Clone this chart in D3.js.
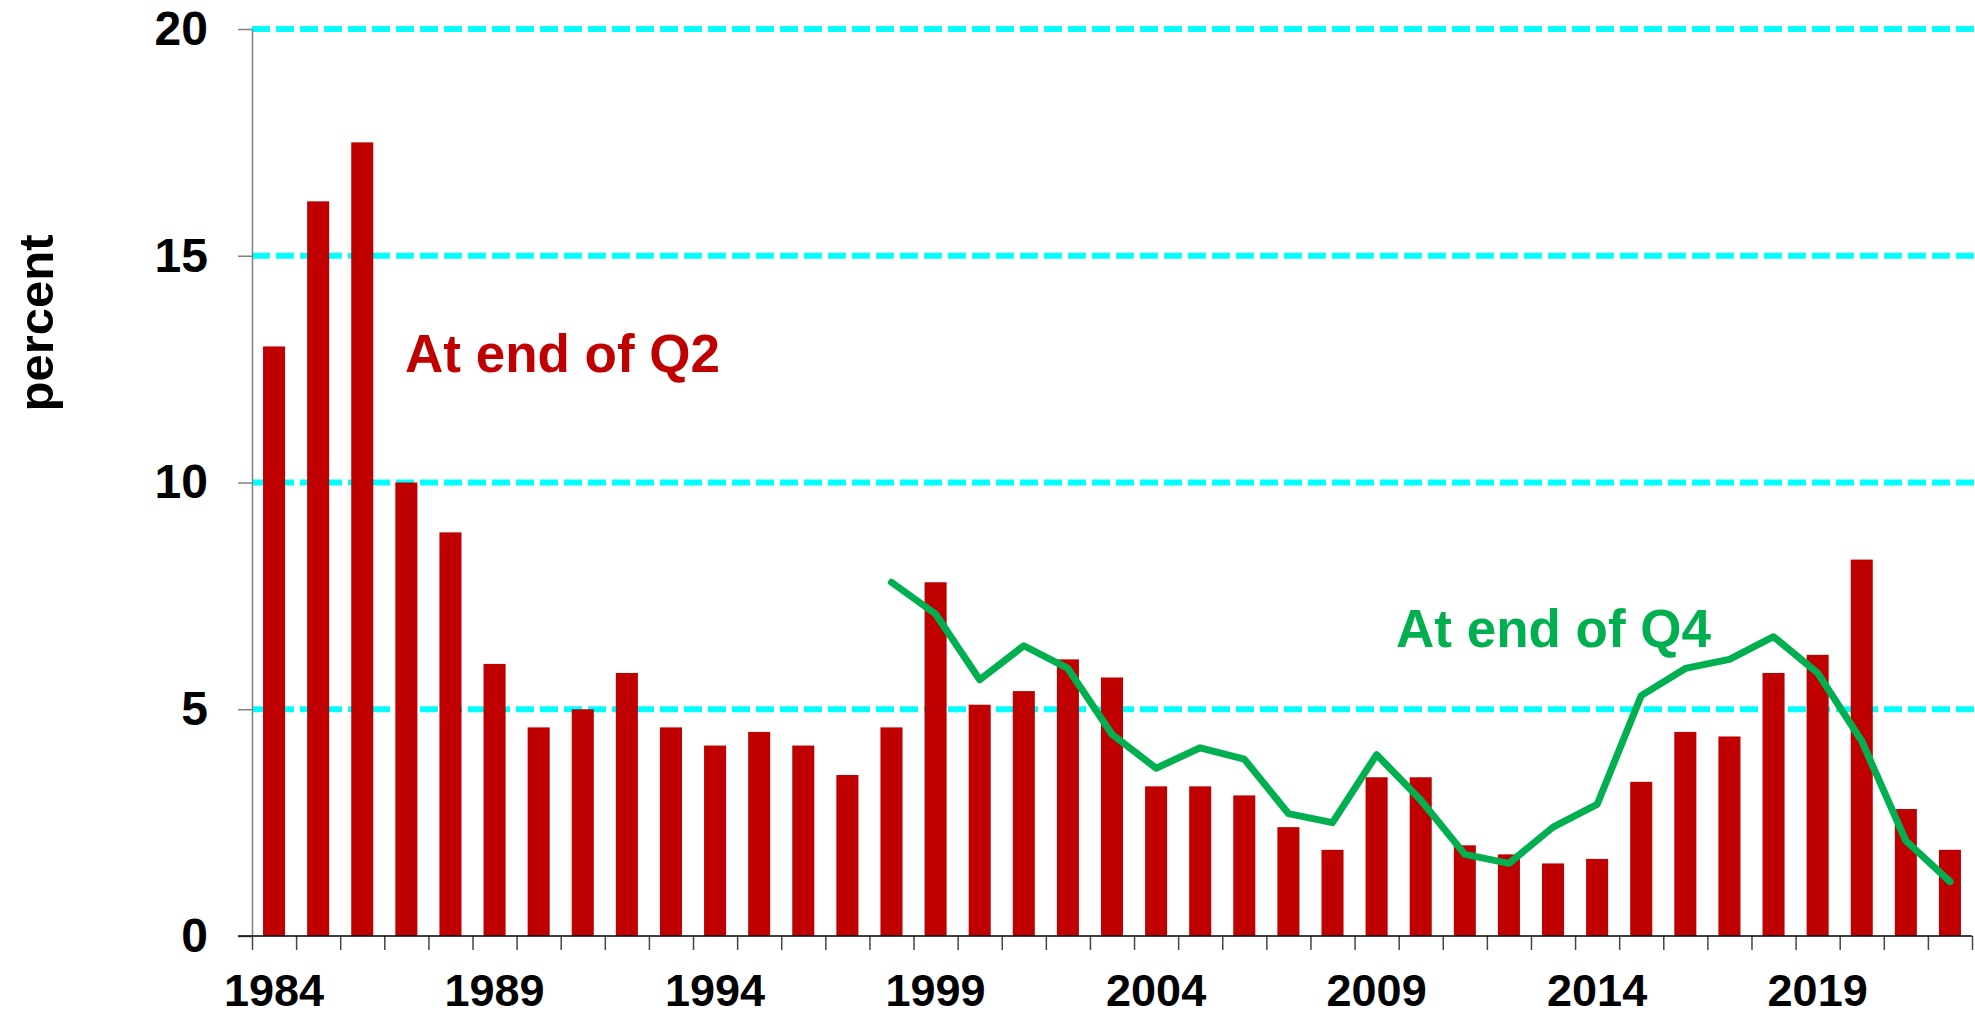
<!DOCTYPE html>
<html>
<head>
<meta charset="utf-8">
<script src="https://cdn.jsdelivr.net/npm/d3@7"></script>
<style>
  body { margin: 0; background: #fff; }
  text { font-family: "Liberation Sans", Arial, sans-serif; font-weight: bold; }
</style>
</head>
<body>
<div id="chart"></div>
<script>
// Years for the Q2 bars
const YEARS = [1984, 1985, 1986, 1987, 1988, 1989, 1990, 1991, 1992, 1993,
  1994, 1995, 1996, 1997, 1998, 1999, 2000, 2001, 2002, 2003,
  2004, 2005, 2006, 2007, 2008, 2009, 2010, 2011, 2012, 2013,
  2014, 2015, 2016, 2017, 2018, 2019, 2020, 2021, 2022];

// Percent at end of Q2 (bars)
const Q2_VALUES = [13.0, 16.2, 17.5, 10.0, 8.9, 6.0, 4.6, 5.0, 5.8, 4.6,
  4.2, 4.5, 4.2, 3.55, 4.6, 7.8, 5.1, 5.4, 6.1, 5.7,
  3.3, 3.3, 3.1, 2.4, 1.9, 3.5, 3.5, 2.0, 1.8, 1.6,
  1.7, 3.4, 4.5, 4.4, 5.8, 6.2, 8.3, 2.8, 1.9];

// Percent at end of Q4 (line)
const Q4_YEARS = [1998, 1999, 2000, 2001, 2002, 2003, 2004, 2005, 2006, 2007,
  2008, 2009, 2010, 2011, 2012, 2013, 2014, 2015, 2016, 2017,
  2018, 2019, 2020, 2021, 2022];
const Q4_VALUES = [7.8, 7.1, 5.65, 6.4, 5.9, 4.45, 3.7, 4.15, 3.9, 2.7,
  2.5, 4.0, 3.0, 1.8, 1.6, 2.4, 2.9, 5.3, 5.9, 6.1,
  6.6, 5.8, 4.3, 2.1, 1.2];

const Y_TICKS = [0, 5, 10, 15, 20];
const X_LABELS = [1984, 1989, 1994, 1999, 2004, 2009, 2014, 2019];

// Dimensions
const WIDTH = 1975;
const HEIGHT = 1016;
const PLOT = { left: 252, right: 1972, top: 29, bottom: 936 };

const svg = d3.select('#chart')
  .append('svg')
  .attr('width', WIDTH)
  .attr('height', HEIGHT);

// Scales
const x = d3.scaleBand()
  .domain(YEARS)
  .range([PLOT.left, PLOT.right])
  .paddingInner(0.5)
  .paddingOuter(0.25);

const xEdge = d3.scaleLinear()
  .domain([0, YEARS.length])
  .range([PLOT.left, PLOT.right]);

const y = d3.scaleLinear()
  .domain([0, 20])
  .range([PLOT.bottom, PLOT.top]);

// Dashed grid lines
svg.append('g')
  .selectAll('line')
  .data(Y_TICKS.filter(d => d > 0))
  .enter()
  .append('line')
  .attr('x1', PLOT.left)
  .attr('x2', WIDTH)
  .attr('y1', d => y(d))
  .attr('y2', d => y(d))
  .attr('stroke', '#00FFFF')
  .attr('stroke-width', 6)
  .attr('stroke-dasharray', '18,6');

// Bars
svg.append('g')
  .selectAll('rect')
  .data(YEARS.map((yr, i) => ({ yr, v: Q2_VALUES[i] })))
  .enter()
  .append('rect')
  .attr('x', d => x(d.yr))
  .attr('width', x.bandwidth())
  .attr('y', d => y(d.v))
  .attr('height', d => y(0) - y(d.v))
  .attr('fill', '#C00000');

// Q4 line
const line = d3.line()
  .x(d => x(d.yr) + x.bandwidth() / 2)
  .y(d => y(d.v));

svg.append('path')
  .datum(Q4_YEARS.map((yr, i) => ({ yr, v: Q4_VALUES[i] })))
  .attr('d', line)
  .attr('fill', 'none')
  .attr('stroke', '#00B050')
  .attr('stroke-width', 7)
  .attr('stroke-linejoin', 'round')
  .attr('stroke-linecap', 'round');

// Y axis
const yAxis = svg.append('g')
  .attr('transform', `translate(${PLOT.left},0)`)
  .call(d3.axisLeft(y).tickValues(Y_TICKS).tickSize(14).tickPadding(30).tickSizeOuter(0));
yAxis.select('.domain').attr('stroke', '#808080').attr('stroke-width', 1.5);
yAxis.selectAll('.tick line').attr('stroke', '#808080').attr('stroke-width', 1.5);
yAxis.selectAll('.tick text')
  .attr('font-size', 48)
  .attr('fill', '#000')
  .attr('font-family', '"Liberation Sans", Arial, sans-serif');

// X axis ticks at band edges
const xAxis = svg.append('g')
  .attr('transform', `translate(0,${PLOT.bottom})`)
  .call(d3.axisBottom(xEdge).tickValues(d3.range(0, YEARS.length + 1)).tickSize(14).tickSizeOuter(0).tickFormat(''));
xAxis.select('.domain').remove();
xAxis.selectAll('.tick line').attr('stroke', '#444').attr('stroke-width', 1.5);

svg.append('line')
  .attr('x1', PLOT.left - 14)
  .attr('x2', PLOT.right)
  .attr('y1', PLOT.bottom)
  .attr('y2', PLOT.bottom)
  .attr('stroke', '#000')
  .attr('stroke-width', 1.5);

// X labels every 5 years
svg.append('g')
  .selectAll('text')
  .data(X_LABELS)
  .enter()
  .append('text')
  .attr('x', d => x(d) + x.bandwidth() / 2)
  .attr('y', 1006)
  .attr('text-anchor', 'middle')
  .attr('font-size', 45)
  .text(d => d);

// Y axis title
svg.append('text')
  .attr('transform', 'translate(53,323) rotate(-90)')
  .attr('text-anchor', 'middle')
  .attr('font-size', 49)
  .text('percent');

// Series labels
svg.append('text')
  .attr('x', 405)
  .attr('y', 372)
  .attr('font-size', 53)
  .attr('fill', '#C00000')
  .text('At end of Q2');

svg.append('text')
  .attr('x', 1396)
  .attr('y', 647)
  .attr('font-size', 53)
  .attr('fill', '#00B050')
  .text('At end of Q4');
</script>
</body>
</html>
